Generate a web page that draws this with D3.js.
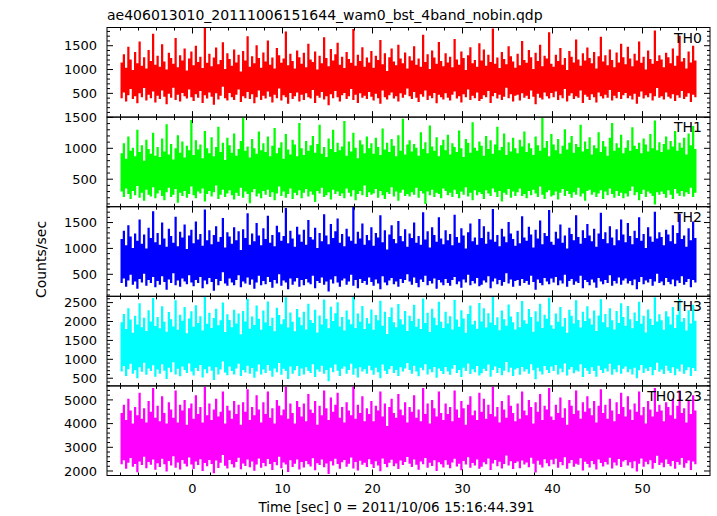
<!DOCTYPE html>
<html><head><meta charset="utf-8">
<script src="https://cdn.jsdelivr.net/npm/d3@7"></script>
<style>
html,body{margin:0;padding:0;background:#fff;}
svg{display:block;font-family:"DejaVu Sans",sans-serif;}
</style></head>
<body>
<div id="chart"></div>
<script>
// ---------- data ----------
const title = "ae406013010_20111006151644_wam0_bst_4band_nobin.qdp";
const xLabel = "Time [sec] 0 = 2011/10/06 15:16:44.391";
const yLabel = "Counts/sec";
const seriesNames = ["TH0","TH1","TH2","TH3","TH0123"];
const seriesColors = ["#ff0000","#00ff00","#0000ff","#00ffff","#ff00ff"];
const timeStart = -8, timeEnd = 56;   // 256 bins of 0.25 s
const xTickLabels = [0,10,20,30,40,50];
const yTickLabels = [[500,1000,1500],[500,1000,1500],[500,1000,1500],[500,1000,1500,2000,2500],[2000,3000,4000,5000]];
const yDomains = [[2,1882],[55,1505],[75,1806],[297,2666],[1810,5591]];
const yMinorSteps = [100,100,100,100,200];

// per-bin maximum / minimum count rate
const th0Hi = [
1150,1320,1040,1480,1210,990,1370,1130,1590,1080,1260,1020,1410,1180,1750,1100,
1290,1060,1530,1170,1000,1350,1240,1120,1660,1050,1300,1190,1440,980,1230,1380,
1090,1500,1160,1270,1030,1880,1140,1330,1070,1250,1460,1110,1200,1570,1010,1340,
1220,1080,1420,1150,1310,960,1390,1190,1700,1060,1280,1130,1510,1240,1040,1360,
1170,1610,1100,1250,1020,1450,1300,1140,1230,1800,1090,1330,1180,1020,1400,1260,
1120,1350,1050,1540,1210,1160,1380,1000,1290,1130,1680,1240,1070,1430,1190,1320,
1560,1100,1270,1030,1370,1220,1140,1850,1080,1310,1180,1470,1060,1250,1150,1390,
1040,1290,1200,1620,1110,1340,970,1260,1440,1170,1090,1520,1230,1130,1360,1020,
1280,1190,1490,1100,1230,1060,1730,1160,1320,1010,1400,1250,1120,1580,1180,1070,
1340,1150,1270,1050,1640,1210,1100,1380,1240,990,1300,1470,1130,1200,1060,1550,
1190,1420,1080,1310,1160,1860,1120,1250,1030,1370,1220,1110,1490,1280,1170,1040,
1330,1090,1600,1200,1140,1410,1260,1010,1350,1180,1520,1070,1290,1230,1780,1120,
1060,1310,1180,1450,1100,1240,990,1390,1270,1150,1630,1210,1080,1340,1190,1460,
1240,1130,1370,1020,1280,1690,1170,1300,1090,1420,1200,1050,1360,1150,1540,1260,
1110,1480,1230,1070,1330,1190,1590,1140,1270,1000,1400,1220,1120,1820,1180,1300,
1210,1050,1350,1260,1130,1440,1080,1290,1710,1170,1240,1020,1380,1150,1500,1190];
const th0Lo = [
400,520,330,460,590,380,440,290,500,420,610,350,470,400,540,310,
450,380,560,430,270,490,410,620,360,470,330,510,440,390,580,420,
340,480,410,550,300,460,390,520,430,260,500,370,450,640,400,350,
510,420,360,470,580,320,440,400,530,380,480,290,420,560,360,450,
390,540,430,310,470,400,600,350,460,420,280,510,380,440,520,330,
470,360,500,420,390,570,300,450,410,530,370,440,250,480,400,550,
420,330,460,510,380,440,590,360,470,300,500,410,450,380,530,430,
350,490,400,280,560,420,370,460,520,390,440,330,500,410,470,600,
440,380,530,410,320,480,430,560,360,450,400,510,290,470,420,370,
500,410,350,470,540,390,440,310,480,420,580,360,450,400,520,340,
380,460,420,550,300,440,510,390,470,360,430,620,400,480,330,450,
470,350,500,410,450,380,560,430,270,490,410,370,520,440,390,510,
420,540,360,460,400,590,330,450,500,380,440,410,560,300,470,430,
360,480,420,310,520,440,390,470,410,570,350,450,400,530,380,460,
510,400,450,370,490,280,430,540,390,460,420,500,350,440,610,410,
440,370,520,430,390,480,340,460,410,550,380,430,500,320,470,420];

const th1Hi = [
920,1080,830,1190,960,1010,870,1300,940,1050,800,1140,990,910,1250,880,
1020,860,1160,950,1390,900,1070,820,1000,1210,930,1110,850,1040,970,1460,
890,1130,980,1060,840,1280,1000,920,1180,870,1020,1350,940,1090,810,1170,
1050,930,1240,880,990,1120,1500,960,1030,850,1150,1000,910,1270,970,1080,
940,1190,870,1040,1330,920,1010,1100,830,1230,980,900,1140,1060,870,1410,
1000,890,1120,960,1050,1200,930,1070,1380,910,1020,860,1160,990,1300,940,
1090,970,1030,1440,880,1110,950,1250,1010,840,1130,1060,920,1190,1000,1080,
910,1170,1020,890,1320,980,1090,940,1150,1040,870,1210,960,1480,900,1060,
1130,950,1070,1010,880,1260,990,1100,920,1370,1030,960,1180,870,1050,1140,
970,1220,900,1080,1020,940,1290,1000,860,1150,1090,930,1420,1010,960,1110,
1040,880,1200,990,1130,910,1060,1350,970,1020,1240,890,1100,950,1170,1000,
920,1140,1030,1270,940,1080,1000,890,1190,1050,960,1490,1010,1120,870,1230,
1060,970,1150,910,1040,1310,980,1090,1200,930,1070,1020,1380,950,1110,990,
1180,900,1050,1000,1260,940,1120,1030,880,1170,1410,960,1080,1010,1220,920,
1010,1130,960,1340,1040,990,1090,920,1160,1060,950,1230,1000,1450,970,1100,
940,1070,1190,980,1120,1030,1280,960,1090,1010,1170,900,1240,1050,1360,990];
const th1Lo = [
300,210,350,260,180,310,240,390,200,280,150,330,250,220,370,190,
270,320,230,160,290,360,210,250,340,120,280,230,310,200,260,380,
240,190,300,270,350,140,260,310,220,290,400,180,250,330,210,270,
320,240,170,280,230,360,200,300,260,110,290,340,220,270,190,310,
250,330,210,290,160,270,380,230,300,200,260,350,180,280,240,320,
190,280,340,220,300,250,130,310,270,360,210,240,290,170,330,260,
300,230,270,190,350,280,220,320,160,260,310,240,400,210,290,250,
270,340,200,310,240,180,290,260,370,220,300,150,280,330,230,260,
220,290,250,360,200,310,270,100,300,240,330,210,280,260,190,350,
310,240,280,210,330,260,190,300,250,370,220,280,160,320,240,290,
260,180,320,270,230,350,290,210,310,140,280,250,340,200,300,230,
290,350,230,260,190,310,240,330,270,210,380,250,180,290,320,220,
240,300,170,280,340,230,310,260,200,290,250,360,220,270,150,310,
330,250,290,210,270,320,180,300,240,350,260,200,310,230,280,190,
270,220,310,380,240,290,160,260,330,210,300,270,230,90,290,250,
300,260,200,320,250,180,340,270,230,310,220,290,260,360,210,280];

const th2Hi = [
1180,1340,1060,1450,1230,1010,1290,1150,1560,1090,1270,1000,1400,1200,1720,1120,
1300,1070,1500,1190,1030,1380,1240,1110,1610,1040,1320,1210,1460,990,1250,1360,
1100,1520,1170,1280,1050,1750,1160,1350,1080,1260,1430,1130,1220,1590,1020,1310,
1230,1090,1410,1160,1330,970,1370,1200,1680,1070,1290,1140,1490,1250,1060,1390,
1180,1630,1110,1260,1040,1440,1310,1150,1240,1780,1100,1340,1190,1030,1420,1270,
1130,1360,1070,1550,1220,1170,1400,1010,1300,1140,1660,1250,1080,1470,1200,1330,
1580,1110,1280,1040,1380,1230,1150,1800,1090,1320,1190,1480,1070,1260,1160,1410,
1050,1300,1210,1640,1120,1350,980,1270,1450,1180,1100,1530,1240,1140,1370,1030,
1290,1200,1500,1110,1240,1070,1700,1170,1330,1020,1410,1260,1130,1600,1190,1080,
1350,1160,1280,1060,1650,1220,1110,1390,1250,1000,1310,1480,1140,1210,1070,1570,
1200,1430,1090,1320,1170,1760,1130,1260,1040,1380,1230,1120,1510,1290,1180,1050,
1340,1100,1620,1210,1150,1420,1270,1020,1360,1190,1540,1080,1300,1240,1740,1130,
1070,1320,1190,1460,1110,1250,1000,1400,1280,1160,1640,1220,1090,1350,1200,1470,
1250,1140,1380,1030,1290,1690,1180,1310,1100,1430,1210,1060,1370,1160,1560,1270,
1120,1490,1240,1080,1340,1200,1600,1150,1280,1010,1410,1230,1130,1710,1190,1310,
1220,1060,1360,1270,1140,1450,1090,1300,1670,1180,1250,1030,1390,1160,1520,1200];
const th2Lo = [
330,420,260,380,490,300,360,220,410,340,510,280,390,330,450,250,
370,300,460,350,200,400,330,520,290,380,260,420,360,310,480,340,
270,390,330,450,230,380,310,430,350,180,410,290,370,540,320,280,
420,340,290,390,480,250,360,320,440,300,400,220,340,470,290,370,
310,450,350,240,390,320,500,280,380,340,210,420,300,360,430,260,
390,290,410,340,310,470,230,370,330,440,300,360,170,400,320,460,
340,260,380,420,300,360,490,280,390,230,410,330,370,300,440,350,
280,400,320,210,460,340,290,380,430,310,360,260,410,330,390,500,
360,300,440,330,250,400,350,470,290,370,320,420,220,390,340,290,
410,330,280,390,450,310,360,240,400,340,490,290,370,320,430,270,
300,380,340,460,230,360,420,310,390,280,350,520,320,400,260,370,
390,280,410,330,370,300,470,350,200,400,330,290,430,360,310,420,
340,450,290,380,320,490,260,370,410,300,360,330,470,230,390,350,
290,400,340,240,430,360,310,390,330,480,280,370,320,440,300,380,
420,320,370,290,400,210,350,450,310,380,340,410,280,360,510,330,
360,290,430,350,310,400,270,380,330,460,300,350,410,250,390,340];

const th3Hi = [
1980,2200,1800,2350,2050,1700,2150,1920,2480,1850,2100,1750,2300,2000,2620,1880,
2120,1820,2400,1990,1730,2250,2060,1870,2560,1780,2180,2020,2380,1690,2080,2270,
1860,2430,1960,2140,1760,2660,1940,2230,1830,2090,2340,1900,2030,2500,1720,2190,
2040,1850,2310,1950,2210,1660,2280,2000,2600,1810,2130,1910,2420,2070,1780,2290,
1970,2530,1880,2100,1740,2360,2170,1930,2060,2640,1840,2240,1990,1740,2330,2110,
1900,2260,1790,2470,2040,1960,2310,1710,2160,1920,2580,2070,1820,2390,2010,2220,
2510,1870,2120,1760,2290,2050,1930,2650,1830,2210,1990,2410,1800,2090,1950,2320,
1780,2170,2030,2550,1890,2260,1670,2120,2370,1980,1850,2460,2060,1920,2280,1750,
2150,2010,2440,1860,2070,1800,2610,1960,2230,1720,2340,2100,1900,2520,1990,1830,
2260,1950,2140,1790,2570,2050,1860,2300,2080,1700,2200,2420,1920,2020,1810,2490,
2000,2350,1840,2220,1970,2650,1910,2110,1770,2290,2060,1890,2450,2130,1980,1790,
2250,1850,2540,2030,1940,2330,2120,1730,2270,2000,2470,1830,2180,2070,2630,1900,
1810,2210,1990,2380,1870,2090,1700,2310,2150,1950,2560,2040,1840,2260,2010,2400,
2080,1920,2290,1750,2160,2590,1980,2200,1850,2350,2030,1790,2280,1960,2480,2120,
1890,2410,2060,1820,2240,2010,2520,1940,2150,1710,2320,2070,1910,2640,2000,2190,
2030,1780,2270,2130,1920,2380,1830,2180,2600,1990,2090,1760,2300,1950,2440,2020];
const th3Lo = [
680,820,560,740,880,620,710,500,790,670,910,590,760,690,840,540,
730,620,870,700,480,780,660,920,600,750,550,810,720,640,890,680,
570,770,690,850,520,740,630,810,700,450,790,600,730,940,650,580,
810,690,600,760,880,560,720,650,830,620,770,510,680,860,600,730,
640,850,700,540,760,660,900,590,750,690,480,810,620,710,820,560,
760,600,790,690,640,870,530,730,670,830,620,720,420,780,660,860,
700,560,750,810,620,720,880,590,760,520,790,680,740,620,830,710,
590,780,660,500,860,700,610,740,820,640,720,560,790,680,760,900,
720,620,830,680,550,780,710,870,600,740,660,800,510,760,690,610,
800,680,590,750,850,640,720,530,780,690,890,610,740,660,820,570,
630,750,690,860,540,720,810,640,770,580,700,930,660,780,560,730,
770,590,800,680,740,620,870,710,470,780,680,600,820,720,640,810,
690,850,600,760,660,890,570,730,800,630,710,680,870,530,770,700,
610,790,690,540,830,720,640,760,680,880,590,740,660,840,620,750,
810,660,740,600,780,500,710,850,640,760,690,800,580,720,910,670,
730,610,830,700,640,790,580,750,680,860,620,710,790,560,770,690];

const th0123Hi = [
4450,4800,4150,5050,4550,4000,4700,4350,5300,4200,4650,4050,4950,4500,5500,4250,
4750,4100,5150,4450,4000,4900,4600,4250,5400,4050,4800,4550,5000,3950,4650,4850,
4200,5200,4400,4700,4050,5550,4350,4850,4150,4600,5050,4300,4500,5350,4000,4750,
4550,4200,4950,4400,4800,3950,4900,4500,5450,4150,4700,4350,5200,4600,4050,4900,
4400,5350,4250,4650,4000,5000,4750,4350,4600,5550,4200,4850,4450,4000,4950,4700,
4300,4850,4100,5250,4600,4450,4950,3950,4750,4350,5400,4650,4150,5100,4500,4800,
5300,4250,4700,4050,4900,4550,4350,5550,4200,4800,4450,5150,4100,4650,4400,4950,
4100,4750,4550,5350,4300,4850,3900,4700,5050,4450,4250,5250,4600,4350,4900,4050,
4700,4500,5200,4250,4600,4100,5500,4400,4850,4000,5000,4650,4300,5350,4450,4150,
4850,4400,4700,4100,5400,4600,4250,4950,4650,3950,4800,5150,4350,4550,4150,5300,
4500,5050,4200,4800,4400,5550,4300,4700,4050,4950,4600,4250,5200,4750,4450,4100,
4850,4200,5350,4550,4350,5000,4700,4000,4900,4500,5250,4150,4750,4600,5500,4300,
4150,4800,4450,5100,4250,4650,3950,5000,4750,4400,5400,4550,4200,4900,4500,5150,
4650,4350,4950,4050,4750,5450,4450,4800,4200,5050,4550,4100,4900,4400,5300,4700,
4300,5150,4600,4150,4850,4500,5350,4350,4700,4000,4950,4600,4300,5500,4500,4800,
4550,4100,4900,4700,4350,5050,4200,4750,5400,4450,4650,4050,4950,4400,5200,4550];
const th0123Lo = [
2280,2450,2100,2350,2550,2180,2300,1950,2400,2250,2600,2120,2380,2260,2480,2050,
2330,2170,2520,2290,1980,2420,2230,2620,2140,2360,2060,2460,2310,2190,2570,2270,
2080,2400,2250,2500,2000,2340,2200,2460,2300,1900,2440,2130,2350,2680,2220,2110,
2460,2280,2150,2380,2560,2070,2320,2210,2490,2160,2400,2010,2270,2530,2140,2340,
2200,2510,2300,2040,2380,2240,2600,2120,2360,2270,1960,2450,2170,2310,2480,2060,
2380,2150,2420,2280,2190,2540,2030,2330,2250,2490,2160,2320,1870,2410,2230,2520,
2300,2090,2370,2460,2180,2310,2570,2110,2380,2020,2430,2260,2350,2170,2500,2290,
2130,2410,2230,1990,2530,2300,2160,2350,2470,2200,2320,2080,2440,2250,2380,2590,
2310,2170,2480,2260,2050,2400,2290,2550,2140,2350,2210,2450,2000,2370,2280,2150,
2450,2260,2120,2360,2520,2190,2310,2030,2420,2270,2580,2140,2340,2230,2490,2090,
2180,2370,2280,2530,2040,2320,2460,2200,2390,2110,2300,2650,2230,2410,2080,2340,
2400,2120,2440,2270,2360,2160,2560,2310,1940,2430,2260,2150,2500,2330,2200,2470,
2290,2520,2140,2380,2240,2580,2090,2330,2460,2180,2310,2260,2540,2020,2390,2300,
2150,2420,2290,2060,2490,2340,2190,2380,2270,2560,2110,2360,2230,2510,2170,2400,
2460,2230,2370,2120,2410,1980,2310,2530,2180,2390,2280,2450,2100,2340,2640,2250,
2350,2160,2490,2300,2200,2420,2090,2380,2260,2550,2140,2330,2440,2040,2400,2290];

const seriesHi = [th0Hi, th1Hi, th2Hi, th3Hi, th0123Hi];
const seriesLo = [th0Lo, th1Lo, th2Lo, th3Lo, th0123Lo];

// ---------- layout ----------
const W = 717, H = 516;
const plotLeft = 107, plotRight = 710, plotTop = 27.5, panelH = 89.6;
const nPanels = seriesNames.length;

const svg = d3.select("#chart").append("svg").attr("width", W).attr("height", H);

const x = d3.scaleLinear().domain([-9.5, 57.5]).range([plotLeft, plotRight]);
const xMinor = d3.range(-8, 57, 2);

seriesNames.forEach((name, i) => {
  const y0 = plotTop + i * panelH, y1 = y0 + panelH;
  const y = d3.scaleLinear().domain(yDomains[i]).range([y1, y0]);
  const hi = seriesHi[i], lo = seriesLo[i];
  const n = hi.length;
  const dt = (timeEnd - timeStart) / n;
  // histogram-style bins: each bin spans [t, t+dt]
  const pts = [];
  hi.forEach((h, k) => {
    const t0 = timeStart + k * dt;
    pts.push({t: t0, hi: h, lo: lo[k]});
    pts.push({t: t0 + dt, hi: h, lo: lo[k]});
  });

  const clipId = "clip" + i;
  svg.append("clipPath").attr("id", clipId).append("rect")
    .attr("x", plotLeft).attr("y", y0).attr("width", plotRight - plotLeft).attr("height", panelH);

  const area = d3.area().x(d => x(d.t)).y0(d => y(d.lo)).y1(d => y(d.hi));
  svg.append("path").datum(pts)
    .attr("clip-path", `url(#${clipId})`)
    .attr("d", area)
    .attr("fill", seriesColors[i])
    .attr("stroke", "none");

  const g = svg.append("g").attr("stroke", "#000").attr("stroke-width", 1).attr("fill", "none");
  g.append("rect").attr("x", plotLeft).attr("y", y0).attr("width", plotRight - plotLeft).attr("height", panelH);

  // x ticks top and bottom
  xMinor.forEach(t => {
    const len = (t % 10 === 0) ? 6 : 3;
    g.append("line").attr("x1", x(t)).attr("x2", x(t)).attr("y1", y0).attr("y2", y0 + len);
    g.append("line").attr("x1", x(t)).attr("x2", x(t)).attr("y1", y1).attr("y2", y1 - len);
  });

  // y ticks left and right
  const step = yMinorSteps[i];
  const dom = yDomains[i];
  const majors = yTickLabels[i];
  const minorVals = d3.range(Math.ceil(dom[0] / step) * step, dom[1], step);
  minorVals.forEach(v => {
    const len = majors.includes(v) ? 6 : 3;
    g.append("line").attr("x1", plotLeft).attr("x2", plotLeft + len).attr("y1", y(v)).attr("y2", y(v));
    g.append("line").attr("x1", plotRight).attr("x2", plotRight - len).attr("y1", y(v)).attr("y2", y(v));
  });

  majors.forEach(v => {
    svg.append("text").attr("x", 97).attr("y", y(v)).attr("dy", "0.36em")
      .attr("text-anchor", "end").attr("font-size", 13).attr("fill", "#000").text(v);
  });

  svg.append("text").attr("x", 702).attr("y", y0 + 15)
    .attr("text-anchor", "end").attr("font-size", 14).attr("fill", "#000").text(name);
});

const bottom = plotTop + nPanels * panelH;
xTickLabels.forEach(t => {
  svg.append("text").attr("x", x(t)).attr("y", 493)
    .attr("text-anchor", "middle").attr("font-size", 13).attr("fill", "#000").text(t);
});

svg.append("text").attr("x", 107).attr("y", 20).attr("font-size", 14).attr("fill", "#000").text(title);

svg.append("text").attr("x", 396.5).attr("y", 512).attr("text-anchor", "middle")
  .attr("font-size", 13.5).attr("fill", "#000").text(xLabel);

svg.append("text").attr("transform", `translate(46,${(plotTop + bottom) / 2 + 8}) rotate(-90)`)
  .attr("text-anchor", "middle").attr("font-size", 14).attr("fill", "#000").text(yLabel);
</script>
</body></html>
